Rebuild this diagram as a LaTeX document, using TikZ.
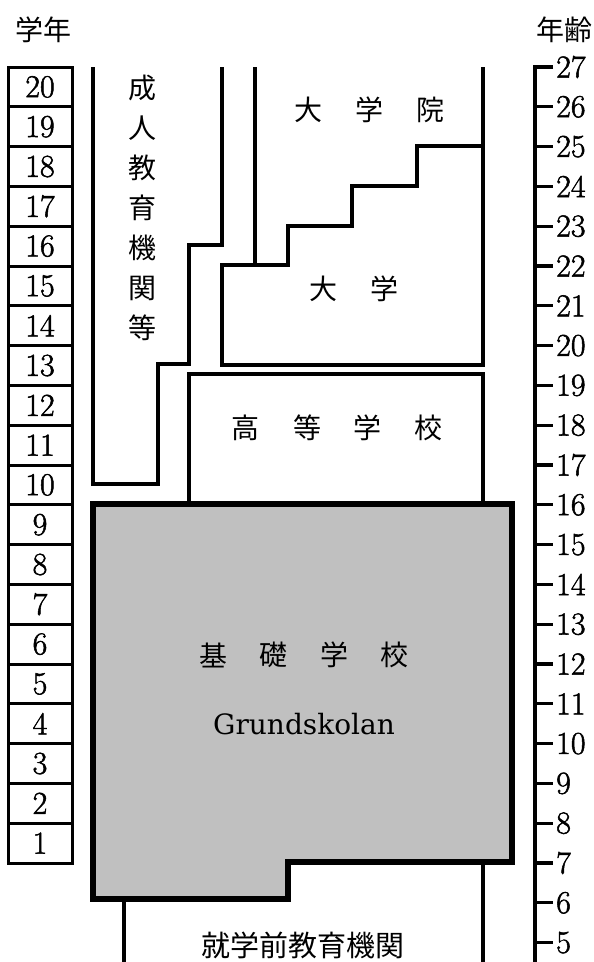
\documentclass[tikz,border=0pt]{standalone}
\usepackage{fontspec}
\newfontfamily\jp{Noto Sans CJK JP}
\newfontfamily\dvs{DejaVu Serif}
\newfontfamily\numf[FakeBold=1.6]{Latin Modern Roman}
\definecolor{boxgray}{HTML}{C0C0C0}
\begin{document}
\begin{tikzpicture}[x=1pt,y=-1pt,line join=miter]
\tikzset{
  ln/.style={line width=3.2pt},
  thickln/.style={line width=6pt},
  jpt/.style={font=\jp\fontsize{28}{28}\selectfont, inner sep=0pt},
  num/.style={font=\numf\fontsize{32}{32}\selectfont, inner sep=0pt},
  gbox/.style={draw, line width=3pt, minimum width=64pt, minimum height=39.8pt, inner sep=0pt, font=\numf\fontsize{32}{32}\selectfont}
}
\useasboundingbox (0,0) rectangle (594,962);
% titles
\node[jpt] (tgrade) at (44,30) {学年};
\node[jpt] (tage) at (564,30) {年齢};
% grade boxes
\foreach \g in {1,...,20} {
  \node[gbox] (g\g) at (40,{67+(20-\g)*39.8+19.9}) {\g};
}
% age scale
\draw[ln] (553,67) -- (535,67) -- (535,962);
\foreach \a in {5,...,26} {
  \draw[ln] (535,{67+(27-\a)*39.8}) -- (553,{67+(27-\a)*39.8});
}
\foreach \a in {5,...,27} {
  \node[num,anchor=west] (a\a) at (556,{67+(27-\a)*39.8}) {\a};
}
% adult education
\draw[ln] (222,67) -- (222,245) -- (189,245) -- (189,364) -- (158,364) -- (158,484) -- (93,484) -- (93,67);
\foreach \c [count=\i] in {成,人,教,育,機,関,等} {
  \node[jpt] (ad\i) at (142,{88+(\i-1)*40}) {\c};
}
% university / graduate school
\draw[ln] (255,67) -- (255,265);
\draw[ln] (483,67) -- (483,365) -- (222,365) -- (222,265) -- (288,265) -- (288,226) -- (352,226) -- (352,186) -- (417,186) -- (417,146) -- (483,146);
\foreach \c/\x in {大/308,学/369,院/430} {
  \node[jpt] (gs\x) at (\x,110) {\c};
}
\foreach \c/\x in {大/323,学/384} {
  \node[jpt] (un\x) at (\x,289) {\c};
}
% upper secondary
\draw[ln] (189,504) -- (189,374) -- (483,374) -- (483,504);
\foreach \c/\x in {高/245,等/307,学/367,校/428} {
  \node[jpt] (hs\x) at (\x,428) {\c};
}
% preschool
\draw[ln] (124,890) -- (124,962);
\draw[ln] (483,855) -- (483,962);
\node[jpt,font=\jp\fontsize{29}{29}\selectfont] (pre) at (303,945) {就学前教育機関};
% compulsory school
\draw[thickln,fill=boxgray] (93,504) -- (512,504) -- (512,862) -- (288,862) -- (288,899) -- (93,899) -- cycle;
\foreach \c/\x in {基/213,礎/273,学/334,校/394} {
  \node[jpt] (gr\x) at (\x,655) {\c};
}
\node[inner sep=0pt,font=\dvs\fontsize{28}{28}\selectfont] (grund) at (304,724) {Grundskolan};
\end{tikzpicture}
\end{document}
